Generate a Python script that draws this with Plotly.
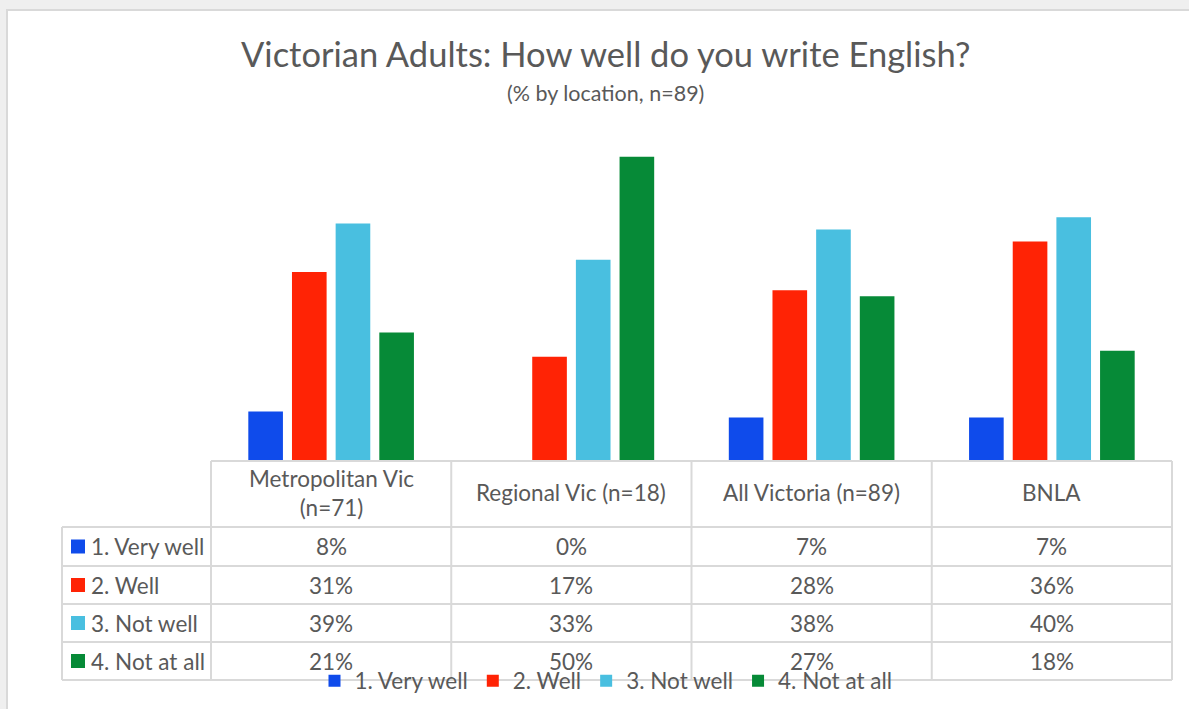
import plotly.graph_objects as go

# ---- data -------------------------------------------------------------
locations = ["Metropolitan Vic (n=71)", "Regional Vic (n=18)", "All Victoria (n=89)", "BNLA"]
location_labels = ["Metropolitan Vic<br>(n=71)", "Regional Vic (n=18)", "All Victoria (n=89)", "BNLA"]
series_names = ["1. Very well", "2. Well", "3. Not well", "4. Not at all"]
very_well = [8, 0, 7, 7]
well = [31, 17, 28, 36]
not_well = [39, 33, 38, 40]
not_at_all = [21, 50, 27, 18]
series_values = [very_well, well, not_well, not_at_all]
series_colors = ["#0F4BEB", "#FF2305", "#49BFE0", "#068A37"]

# ---- layout geometry (pixels of the 1189x709 canvas) ---------------------
W, H = 1189, 709
PL, PR, PT, PB = 211, 1172, 96, 460          # plot area edges
TEXT = "#595959"
GRID = "#D9D9D9"
FONT = "Lato"
CELL_SIZE = 22.5


def px_x(x):
    return (x - PL) / (PR - PL)


def px_y(y):
    return (PB - y) / (PB - PT)


fig = go.Figure()
for name, vals, col in zip(series_names, series_values, series_colors):
    fig.add_trace(go.Bar(
        x=locations, y=vals, name=name, marker_color=col,
        marker_line_width=0, hovertemplate="%{x}: %{y}%<extra>" + name + "</extra>",
    ))

shapes = []
annotations = []

# chart panel (white with light frame on grey page)
shapes.append(dict(type="rect", xref="paper", yref="paper", layer="below",
                   x0=px_x(7), x1=px_x(1210), y0=px_y(10), y1=px_y(730),
                   fillcolor="white", line=dict(color=GRID, width=2)))

# data table grid
col_edges = [PL + i * (PR - PL) / len(locations) for i in range(len(locations) + 1)]
row_edges = [527, 566, 604, 642, 680]
LEFT = 62
line = dict(color=GRID, width=2)
shapes.append(dict(type="line", xref="paper", yref="paper", layer="above",
                   x0=px_x(PL), x1=px_x(PR), y0=px_y(461), y1=px_y(461), line=line))
for ry in row_edges:
    shapes.append(dict(type="line", xref="paper", yref="paper", layer="above",
                       x0=px_x(LEFT), x1=px_x(PR), y0=px_y(ry), y1=px_y(ry), line=line))
shapes.append(dict(type="line", xref="paper", yref="paper", layer="above",
                   x0=px_x(LEFT), x1=px_x(LEFT), y0=px_y(row_edges[0]), y1=px_y(row_edges[-1]), line=line))
for cx in col_edges:
    shapes.append(dict(type="line", xref="paper", yref="paper", layer="above",
                       x0=px_x(cx), x1=px_x(cx), y0=px_y(461), y1=px_y(row_edges[-1]), line=line))

# header row: location names
for loc, lab in zip(locations, location_labels):
    annotations.append(dict(x=loc, xref="x", y=px_y(493), yref="paper", text=lab,
                            showarrow=False, xanchor="center", yanchor="middle",
                            font=dict(family=FONT, size=CELL_SIZE, color=TEXT)))

# series rows: legend key, series name and values
for r, (name, vals, col) in enumerate(zip(series_names, series_values, series_colors)):
    cy = (row_edges[r] + row_edges[r + 1]) / 2
    shapes.append(dict(type="rect", xref="paper", yref="paper", layer="above",
                       x0=px_x(71), x1=px_x(85), y0=px_y(cy - 7), y1=px_y(cy + 7),
                       fillcolor=col, line=dict(width=0)))
    annotations.append(dict(x=px_x(89), xref="paper", y=px_y(cy), yref="paper", text=name,
                            showarrow=False, xanchor="left", yanchor="middle",
                            font=dict(family=FONT, size=CELL_SIZE, color=TEXT)))
    for loc, v in zip(locations, vals):
        annotations.append(dict(x=loc, xref="x", y=px_y(cy), yref="paper", text=f"{v}%",
                                showarrow=False, xanchor="center", yanchor="middle",
                                font=dict(family=FONT, size=CELL_SIZE, color=TEXT)))

# titles
annotations.append(dict(x=px_x(605), xref="paper", y=px_y(54), yref="paper",
                        text="Victorian Adults: How well do you write English?",
                        showarrow=False, xanchor="center", yanchor="middle",
                        font=dict(family=FONT, size=34.5, color=TEXT)))
annotations.append(dict(x=px_x(605), xref="paper", y=px_y(93), yref="paper",
                        text="(% by location, n=89)",
                        showarrow=False, xanchor="center", yanchor="middle",
                        font=dict(family=FONT, size=21.5, color=TEXT)))

fig.update_layout(
    width=W, height=H,
    margin=dict(l=PL, r=W - PR, t=PT, b=H - PB, pad=0, autoexpand=False),
    paper_bgcolor="#EFEFEF", plot_bgcolor="rgba(0,0,0,0)",
    barmode="group", bargap=0.273, bargroupgap=0.207,
    font=dict(family=FONT, color=TEXT),
    showlegend=True,
    legend=dict(orientation="h", x=px_x(606), xanchor="center", y=px_y(681), yanchor="middle",
                bgcolor="rgba(0,0,0,0)", font=dict(family=FONT, size=CELL_SIZE, color=TEXT),
                itemwidth=30, traceorder="normal"),
    xaxis=dict(showticklabels=False, showline=False, showgrid=False, zeroline=False, ticks=""),
    yaxis=dict(range=[0, 60], visible=False, showgrid=False, zeroline=False),
    shapes=shapes, annotations=annotations,
)

fig.write_html("out.html")
